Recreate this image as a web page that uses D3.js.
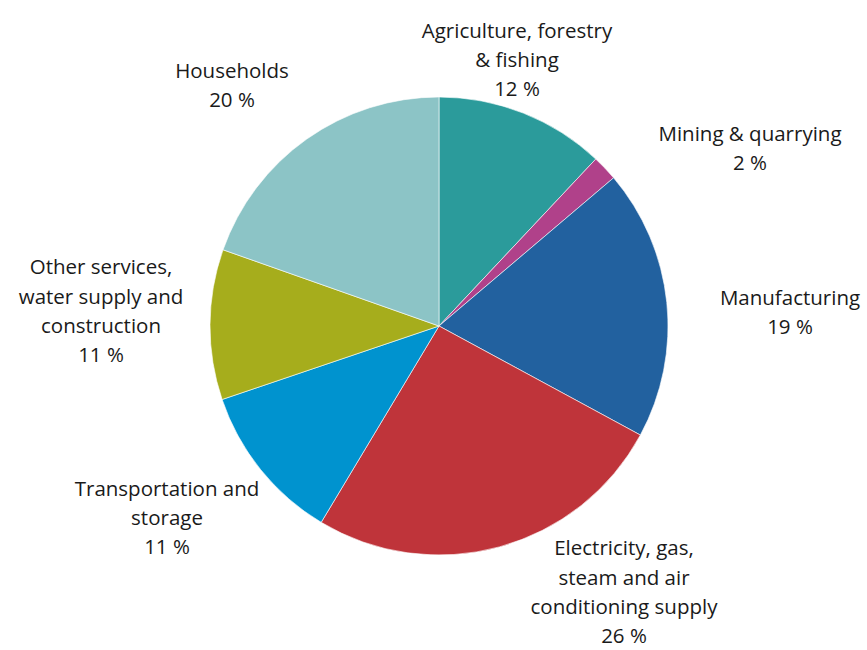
<!DOCTYPE html>
<html>
<head>
<meta charset="utf-8">
<script src="https://cdn.jsdelivr.net/npm/d3@7"></script>
<style>
  html, body { margin: 0; padding: 0; background: #ffffff; }
  svg { display: block; }
</style>
</head>
<body>
<svg id="chart" width="867" height="650"></svg>
<script>
// ---- Data ----
const categories = [
  "Agriculture, forestry & fishing",
  "Mining & quarrying",
  "Manufacturing",
  "Electricity, gas, steam and air conditioning supply",
  "Transportation and storage",
  "Other services, water supply and construction",
  "Households"
];
const labelLines = [
  ["Agriculture, forestry", "& fishing"],
  ["Mining & quarrying"],
  ["Manufacturing"],
  ["Electricity, gas,", "steam and air", "conditioning supply"],
  ["Transportation and", "storage"],
  ["Other services,", "water supply and", "construction"],
  ["Households"]
];
const values = [12.0, 1.8, 19.1, 25.7, 11.2, 10.6, 19.6];
const colors = ["#2b9b9b", "#b0418a", "#22619f", "#bf343a", "#0093cf", "#a6ad1c", "#8cc4c6"];

// ---- Layout ----
const width = 867, height = 650;
const cx = 439, cy = 326, radius = 229;
const lineH = 29.3;
// label centre offsets from pie centre (layout only)
const labelCenter = [
  [78, -266], [311, -178], [351, -14], [185, 266], [-272, 192], [-338, -15], [-207, -241]
];

const svg = d3.select("#chart");
const g = svg.append("g").attr("transform", `translate(${cx},${cy})`);

const pie = d3.pie().sort(null).value(d => d.value).startAngle(0).endAngle(2 * Math.PI);
const arc = d3.arc().innerRadius(0).outerRadius(radius);

const data = categories.map((c, i) => ({ name: c, value: values[i], color: colors[i], lines: labelLines[i], idx: i }));
const arcs = pie(data);

g.selectAll("path.slice")
  .data(arcs)
  .join("path")
  .attr("class", "slice")
  .attr("d", arc)
  .attr("fill", d => d.data.color)
  .attr("stroke", "#ffffff")
  .attr("stroke-width", 0.6);

const labels = g.selectAll("text.lbl")
  .data(arcs)
  .join("text")
  .attr("class", "lbl")
  .attr("text-anchor", "middle")
  .attr("font-family", "'Open Sans', sans-serif")
  .attr("font-size", 20.5)
  .attr("fill", "#1a1a1a");

labels.each(function(d) {
  const t = d3.select(this);
  const lines = d.data.lines.concat([Math.round(d.data.value) + " %"]);
  const [lx, ly] = labelCenter[d.data.idx];
  const top = ly - (lines.length - 1) * lineH / 2;
  lines.forEach((ln, k) => {
    t.append("tspan")
      .attr("x", lx)
      .attr("y", top + k * lineH)
      .attr("dy", "0.35em")
      .text(ln);
  });
});
</script>
</body>
</html>
